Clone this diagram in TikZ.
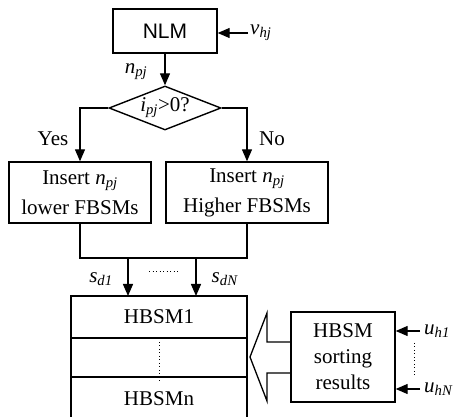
\documentclass[tikz,border=0pt]{standalone}
\usepackage{fontspec}
\setmainfont{Liberation Serif}
\newfontfamily\arialfont{Liberation Sans}
\usetikzlibrary{arrows.meta,positioning,shapes.geometric}

\newcommand{\sub}[2]{\textit{#1}\textsubscript{\textit{#2}}}

\begin{document}
\begin{tikzpicture}[
			x=1pt,y=-1pt,
			box/.style={
				draw,
				line width=1.4pt,
				inner sep=0pt,
				align=center,
				font=\fontsize{21}{30}\selectfont
			},
			cell/.style={box,outer sep=0pt,minimum width=176pt,minimum height=40pt},
			lab/.style={inner sep=2pt,font=\fontsize{21}{25}\selectfont},
			arrow/.style={-{Triangle[length=12pt,width=10pt]},line width=1.4pt},
			line/.style={line width=1.4pt},
			dots/.style={line width=1pt,dash pattern=on 1pt off 2.5pt}
			]
			\useasboundingbox (0,0) rectangle (456,417);
			
			\node[box,font=\arialfont\fontsize{21}{25}\selectfont,minimum width=104pt,minimum height=44pt] (nlm) at (165,31) {NLM};
			\node[draw,diamond,line width=1.4pt,inner sep=0pt,minimum width=112pt,minimum height=44pt] (dec) at (165,108) {};
			\node[lab] (declab) at (dec) {\sub{i}{pj}>0?};
			
			\node[box,minimum width=142pt,minimum height=61pt] (lower) at (80,192.5) {Insert \sub{n}{pj}\\lower FBSMs};
			\node[box,minimum width=162pt,minimum height=61pt] (higher) at (247,192.5) {Insert \sub{n}{pj}\\Higher FBSMs};
			
			\node[cell,minimum height=42pt] (hb1) at (159,317) {HBSM1};
			\node[cell,minimum height=39pt,below=0pt of hb1] (hbmid) {};
			\node[cell,minimum height=43pt,below=0pt of hbmid] (hbn) {HBSMn};
			
			\node[box,font=\fontsize{21}{26}\selectfont,minimum width=104pt,minimum height=90pt] (res) at (343,357) {HBSM\\sorting\\results};
			
			% labels
			\node[lab,anchor=west] (vhj) at (248,33) {\sub{v}{hj}};
			\node[lab] (npj) at (136,72) {\sub{n}{pj}};
			\node[lab] (yes) at (53,139) {Yes};
			\node[lab] (no) at (272,139) {No};
			\node[lab] (sd1) at (101,279) {\sub{s}{d1}};
			\node[lab] (sdn) at (225,279) {\sub{s}{dN}};
			\node[lab,anchor=west,inner sep=4pt] (uh1) at (420,331) {\sub{u}{h1}};
			\node[lab,anchor=west,inner sep=4pt] (uhn) at (420,389) {\sub{u}{hN}};
			
			% connectors
			\draw[arrow] (vhj.west) -- (vhj.west -| nlm.east);
			\draw[arrow] (nlm) -- (dec);
			\draw[arrow] (dec.west) -| (lower);
			\draw[arrow] (dec.east) -| (higher);
			
			\coordinate (merge) at (164,258);
			\draw[line] (lower.south) |- (merge) -| (higher.south);
			\coordinate (s1) at (128,258);
			\coordinate (sn) at (196,258);
			\draw[arrow] (s1) -- (s1 |- hb1.north);
			\draw[arrow] (sn) -- (sn |- hb1.north);
			\draw[dots] (149,272) -- (179,272);
			
			\draw[dots] (hbmid.north) ++(0,4) -- ([yshift=-4pt]hbmid.south);
			
			\draw[arrow] (uh1.west) -- (uh1.west -| res.east);
			\draw[arrow] (uhn.west) -- (uhn.west -| res.east);
			\draw[dots] (414,343) -- (414,378);
			
			% hollow arrow
			\draw[line,line width=1.3pt] (res.west |- 0,342) -- (267,342) -- (267,313) -- (250,357) -- (267,401) -- (267,373) -- (res.west |- 0,373);
			
		\end{tikzpicture}
\end{document}
